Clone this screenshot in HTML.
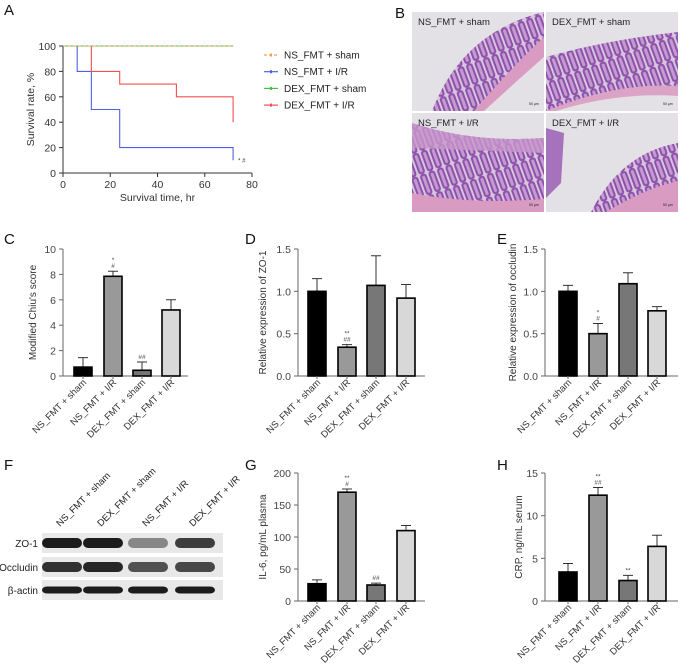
<!DOCTYPE html>
<html><head><meta charset="utf-8"><style>
html,body{margin:0;padding:0;background:#fff;}
svg{display:block;font-family:"Liberation Sans",sans-serif;}
</style></head><body>
<svg id="fig" width="689" height="670" viewBox="0 0 689 670" xmlns="http://www.w3.org/2000/svg">
<defs>
<pattern id="villi" width="9" height="22" patternUnits="userSpaceOnUse" patternTransform="rotate(-20)">
<rect width="9" height="22" fill="#d8c6de"/>
<rect x="1" y="0" width="7" height="22" rx="3" fill="#8e52ab"/>
<rect x="3" y="2" width="3" height="18" rx="1.5" fill="#c59ad2"/>
</pattern>
</defs>
<g id="root"></g>
</svg>
<script>
// ---- Panel A data ----
const survTimes = [0, 6, 12, 24, 48, 72];
const survNSsham = [100, 100, 100, 100, 100, 100];
const survNSIR = [100, 80, 50, 20, 20, 20];
const survDEXsham = [100, 100, 100, 100, 100, 100];
const survDEXIR = [100, 100, 80, 70, 60, 60];
const survEndNSIR = 10;
const survEndDEXIR = 40;
const survXTicks = [0, 20, 40, 60, 80];
const survYTicks = [0, 20, 40, 60, 80, 100];
const legendLabels = ["NS_FMT + sham", "NS_FMT + I/R", "DEX_FMT + sham", "DEX_FMT + I/R"];
// ---- Bar panel data ----
const barCategories = ["NS_FMT + sham", "NS_FMT + I/R", "DEX_FMT + sham", "DEX_FMT + I/R"];
const chiuValues = [0.7, 7.85, 0.45, 5.2];
const chiuErrors = [0.75, 0.4, 0.65, 0.8];
const chiuTicks = [0, 2, 4, 6, 8, 10];
const zo1Values = [1.0, 0.34, 1.07, 0.92];
const zo1Errors = [0.15, 0.03, 0.35, 0.16];
const occValues = [1.0, 0.5, 1.09, 0.77];
const occErrors = [0.07, 0.12, 0.13, 0.05];
const relTicks = [0.0, 0.5, 1.0, 1.5];
const il6Values = [27, 170, 25, 110];
const il6Errors = [6, 5, 3, 8];
const il6Ticks = [0, 50, 100, 150, 200];
const crpValues = [3.4, 12.4, 2.4, 6.4];
const crpErrors = [1.0, 0.9, 0.6, 1.3];
const crpTicks = [0, 5, 10, 15];
const blotLanes = ["NS_FMT + sham", "DEX_FMT + sham", "NS_FMT + I/R", "DEX_FMT + I/R"];
const blotRows = ["ZO-1", "Occludin", "β-actin"];

const NS = "http://www.w3.org/2000/svg";
const root = document.getElementById('root');
function mk(tag, attrs, parent, text) {
  const e = document.createElementNS(NS, tag);
  for (const k in attrs) e.setAttribute(k, attrs[k]);
  if (text !== undefined) e.textContent = text;
  (parent || root).appendChild(e);
  return e;
}
function label(txt, x, y, name) {
  const t = mk('text', {x: x, y: y, 'font-size': 15, fill: '#111'}, root, txt);
  
  
}
label('A', 4, 15, 'panel-a-label');
label('B', 395, 18, 'panel-b-label');
label('C', 4, 244, 'panel-c-label');
label('D', 245, 244, 'panel-d-label');
label('E', 497, 244, 'panel-e-label');
label('F', 4, 470, 'panel-f-label');
label('G', 245, 470, 'panel-g-label');
label('H', 497, 470, 'panel-h-label');

// ---------- Panel A ----------
(function(){
  const g = mk('g', {});
  
  
  const x0 = 63, x1 = 252, y0 = 173, y1 = 46;
  const sx = t => x0 + (t / 80) * (x1 - x0);
  const sy = v => y0 - (v / 100) * (y0 - y1);
  const ax = mk('path', {d: `M${x0},${y1}V${y0}H${x1}`, stroke: '#333', fill: 'none', 'stroke-width': 1}, g);
  
  
  survXTicks.forEach(t => {
    mk('line', {x1: sx(t), x2: sx(t), y1: y0, y2: y0 + 4, stroke: '#333'}, g);
    const tl = mk('text', {x: sx(t), y: y0 + 15, 'font-size': 10.5, 'text-anchor': 'middle', fill: '#333'}, g, t);
    
    
  });
  survYTicks.forEach(v => {
    mk('line', {x1: x0 - 4, x2: x0, y1: sy(v), y2: sy(v), stroke: '#333'}, g);
    const tl = mk('text', {x: x0 - 7, y: sy(v) + 4, 'font-size': 10.5, 'text-anchor': 'end', fill: '#333'}, g, v);
    
    
  });
  const xt = mk('text', {x: (x0 + x1) / 2, y: 201, 'font-size': 10.5, 'text-anchor': 'middle', fill: '#333'}, g, 'Survival time, hr');
  
  
  const yt = mk('text', {x: 0, y: 0, 'font-size': 10.5, 'text-anchor': 'middle', fill: '#333', transform: `translate(34,${(y0 + y1) / 2}) rotate(-90)`}, g, 'Survival rate, %');
  
  
  function step(vals, endVal) {
    let d = `M${sx(survTimes[0])},${sy(vals[0])}`;
    for (let i = 1; i < survTimes.length; i++) {
      d += `H${sx(survTimes[i])}V${sy(vals[i])}`;
    }
    if (endVal !== null) d += `V${sy(endVal)}`;
    return d;
  }
  const colors = ['#f0a050', '#5060e0', '#40c040', '#f05050'];
  const series = [survNSsham, survNSIR, survDEXsham, survDEXIR];
  const ends = [null, survEndNSIR, null, survEndDEXIR];
  const order = [1, 3, 2, 0];
  order.forEach(i => {
    const p = mk('path', {d: step(series[i], ends[i]), stroke: colors[i], fill: 'none', 'stroke-width': 1.1, 'stroke-dasharray': i === 0 ? '3,2' : 'none'}, g);
    
    
  });
  mk('text', {x: sx(72) + 5, y: sy(survEndNSIR) + 2, 'font-size': 6, fill: '#333'}, g, '* #');
  legendLabels.forEach((lab, i) => {
    const y = 55 + i * 16.7;
    const le = mk('g', {}, g);
    
    
    mk('line', {x1: 264, x2: 278, y1: y, y2: y, stroke: colors[i], 'stroke-width': 1.2, 'stroke-dasharray': i === 0 ? '3,2' : 'none'}, le);
    mk('rect', {x: 270, y: y - 1.5, width: 2, height: 3, fill: colors[i]}, le);
    mk('text', {x: 284, y: y + 3.5, 'font-size': 10, fill: '#222'}, le, lab);
  });
})();

// ---------- Panel B (histology) ----------
(function(){
  const g = mk('g', {});
  
  
  const tiles = [
    {x: 412, y: 12, t: 'NS_FMT + sham'},
    {x: 546, y: 12, t: 'DEX_FMT + sham'},
    {x: 412, y: 113, t: 'NS_FMT + I/R'},
    {x: 546, y: 113, t: 'DEX_FMT + I/R'}
  ];
  tiles.forEach((tl, i) => {
    const w = 132, h = 99;
    const tg = mk('g', {}, g);
    
    
    mk('rect', {x: tl.x, y: tl.y, width: w, height: h, fill: '#e4e1e6'}, tg);
    const cp = 'cp' + i;
    const c = mk('clipPath', {id: cp}, tg);
    mk('rect', {x: tl.x, y: tl.y, width: w, height: h}, c);
    const inner = mk('g', {'clip-path': `url(#${cp})`}, tg);
    if (i === 0) {
      mk('path', {d: `M${tl.x+20},${tl.y+h} Q${tl.x+50},${tl.y+20} ${tl.x+w},${tl.y}L${tl.x+w},${tl.y+h}Z`, fill: 'url(#villi)'}, inner);
      mk('path', {d: `M${tl.x+62},${tl.y+h} Q${tl.x+100},${tl.y+55} ${tl.x+w},${tl.y+25}L${tl.x+w},${tl.y+h}Z`, fill: '#d99bc2'}, inner);
      mk('path', {d: `M${tl.x+72},${tl.y+h} Q${tl.x+108},${tl.y+66} ${tl.x+w},${tl.y+45}L${tl.x+w},${tl.y+h}Z`, fill: '#e4e1e6'}, inner);
    } else if (i === 1) {
      mk('path', {d: `M${tl.x},${tl.y+45} Q${tl.x+60},${tl.y+28} ${tl.x+w},${tl.y+20}L${tl.x+w},${tl.y+h}L${tl.x},${tl.y+h}Z`, fill: 'url(#villi)'}, inner);
      mk('path', {d: `M${tl.x},${tl.y+h} Q${tl.x+70},${tl.y+70} ${tl.x+w},${tl.y+74}L${tl.x+w},${tl.y+h}Z`, fill: '#dba3c6'}, inner);
      mk('path', {d: `M${tl.x+10},${tl.y+h} Q${tl.x+70},${tl.y+80} ${tl.x+w},${tl.y+84}L${tl.x+w},${tl.y+h}Z`, fill: '#e4e1e6'}, inner);
    } else if (i === 2) {
      mk('path', {d: `M${tl.x},${tl.y+10} Q${tl.x+60},${tl.y+30} ${tl.x+w},${tl.y+25}L${tl.x+w},${tl.y+h}L${tl.x},${tl.y+h}Z`, fill: 'url(#villi)'}, inner);
      mk('path', {d: `M${tl.x},${tl.y+10} Q${tl.x+60},${tl.y+30} ${tl.x+w},${tl.y+25}L${tl.x+w},${tl.y+40}L${tl.x},${tl.y+35}Z`, fill: '#c896cc', opacity: 0.8}, inner);
      mk('path', {d: `M${tl.x},${tl.y+80} Q${tl.x+60},${tl.y+92} ${tl.x+w},${tl.y+86}L${tl.x+w},${tl.y+h}L${tl.x},${tl.y+h}Z`, fill: '#d99bc2'}, inner);
    } else {
      mk('path', {d: `M${tl.x+45},${tl.y+h} Q${tl.x+75},${tl.y+40} ${tl.x+w},${tl.y+30}L${tl.x+w},${tl.y+h}Z`, fill: 'url(#villi)'}, inner);
      mk('path', {d: `M${tl.x},${tl.y+15} L${tl.x+18},${tl.y+20} L${tl.x+15},${tl.y+70} L${tl.x},${tl.y+85}Z`, fill: '#a672bc'}, inner);
      mk('path', {d: `M${tl.x+60},${tl.y+h} Q${tl.x+100},${tl.y+75} ${tl.x+w},${tl.y+68}L${tl.x+w},${tl.y+h}Z`, fill: '#d99bc2'}, inner);
    }
    mk('text', {x: tl.x + 6, y: tl.y + 13, 'font-size': 9.5, fill: '#222'}, tg, tl.t);
    mk('text', {x: tl.x + w - 15, y: tl.y + h - 6, 'font-size': 3.5, fill: '#222'}, tg, '50 µm');
  });
})();

// ---------- Bar chart helper ----------
function barChart(opts) {
  const g = mk('g', {});
  
  
  const {ax, axEnd, yTop, yBot, max, centers} = opts;
  const sy = v => yBot - (v / max) * (yBot - yTop);
  const axis = mk('path', {d: `M${ax},${yTop}V${yBot}H${axEnd}`, stroke: '#666', fill: 'none', 'stroke-width': 1}, g);
  
  
  opts.ticks.forEach(v => {
    mk('line', {x1: ax - 4, x2: ax, y1: sy(v), y2: sy(v), stroke: '#666'}, g);
    const tl = mk('text', {x: ax - 7, y: sy(v) + 4, 'font-size': 10.5, 'text-anchor': 'end', fill: '#444'}, g, opts.fmt ? opts.fmt(v) : v);
    
    
  });
  const yt = mk('text', {x: 0, y: 0, 'font-size': 10, 'text-anchor': 'middle', fill: '#333', transform: `translate(${opts.titleX},${(yTop + yBot) / 2}) rotate(-90)`}, g, opts.title);
  
  
  const fills = ['#000', '#999', '#777', '#d8d8d8'];
  const bw = 18;
  opts.values.forEach((v, i) => {
    const cx = centers[i];
    const top = sy(opts.values[i] + opts.errors[i]);
    const el = mk('path', {d: `M${cx},${sy(v)}V${top}M${cx - 5},${top}H${cx + 5}`, stroke: '#333', fill: 'none', 'stroke-width': 1}, g);
    
    
    const r = mk('rect', {x: cx - bw / 2, y: sy(v), width: bw, height: yBot - sy(v), fill: fills[i], stroke: '#000', 'stroke-width': 1.6}, g);
    
    
    mk('line', {x1: cx, x2: cx, y1: yBot, y2: yBot + 3, stroke: '#666'}, g);
    const cl = mk('text', {x: 0, y: 0, 'font-size': 9.5, 'text-anchor': 'end', fill: '#333', transform: `translate(${cx + 4},${yBot + 7}) rotate(-45)`}, g, barCategories[i]);
    
    
    const ann = (opts.ann[i] || []);
    ann.forEach((a, k) => {
      const at = mk('text', {x: cx, y: top - 3 - (ann.length - 1 - k) * 6, 'font-size': 6.5, 'text-anchor': 'middle', fill: '#444'}, g, a);
      
      
    });
  });
}
const cL = [83, 113, 142, 171];
const cM = [317, 347, 376, 406];
const cR = [568, 598, 628, 657];
barChart({name: 'chiu-score-chart', ax: 63, axEnd: 188, yTop: 249, yBot: 376, max: 10, centers: cL, ticks: chiuTicks, values: chiuValues, errors: chiuErrors, title: "Modified Chiu's score", titleX: 36, ann: [[], ['*', '#'], ['##'], []]});
barChart({name: 'zo1-expression-chart', ax: 298, axEnd: 425, yTop: 249, yBot: 376, max: 1.5, centers: cM, ticks: relTicks, fmt: v => v.toFixed(1), values: zo1Values, errors: zo1Errors, title: 'Relative expression of ZO-1', titleX: 266, ann: [[], ['**', '##'], [], []]});
barChart({name: 'occludin-expression-chart', ax: 545, axEnd: 678, yTop: 249, yBot: 376, max: 1.5, centers: cR, ticks: relTicks, fmt: v => v.toFixed(1), values: occValues, errors: occErrors, title: 'Relative expression of occludin', titleX: 516, ann: [[], ['*', '#'], [], []]});
barChart({name: 'il6-chart', ax: 298, axEnd: 425, yTop: 473, yBot: 601, max: 200, centers: cM, ticks: il6Ticks, values: il6Values, errors: il6Errors, title: 'IL-6, pg/mL plasma', titleX: 266, ann: [[], ['**', '#'], ['##'], []]});
barChart({name: 'crp-chart', ax: 545, axEnd: 678, yTop: 473, yBot: 601, max: 15, centers: cR, ticks: crpTicks, values: crpValues, errors: crpErrors, title: 'CRP, ng/mL serum', titleX: 522, ann: [[], ['**', '##'], ['**'], []]});

// ---------- Panel F (western blot) ----------
(function(){
  const g = mk('g', {});
  
  
  const laneX = [62, 103, 148, 195];
  const rowY = [543, 567, 590];
  const intens = [[0.95, 0.95, 0.45, 0.8], [0.85, 0.9, 0.7, 0.75], [0.95, 0.95, 0.95, 0.95]];
  blotLanes.forEach((l, i) => {
    const t = mk('text', {x: 0, y: 0, 'font-size': 9.5, fill: '#222', transform: `translate(${laneX[i] - 2},${527}) rotate(-45)`}, g, l);
    
    
  });
  blotRows.forEach((r, j) => {
    const rg = mk('g', {}, g);
    
    
    mk('rect', {x: 42, y: rowY[j] - 10, width: 181, height: 20, fill: '#e8e8e8'}, rg);
    laneX.forEach((x, i) => {
      const a = intens[j][i];
      mk('rect', {x: x - 20, y: rowY[j] - (j === 2 ? 3.5 : 5), width: 40, height: j === 2 ? 7 : 10, rx: 5, fill: '#111', opacity: a}, rg);
    });
    mk('text', {x: 38, y: rowY[j] + 4, 'font-size': 10, 'text-anchor': 'end', fill: '#222'}, rg, r);
  });
})();
</script>
</body></html>
